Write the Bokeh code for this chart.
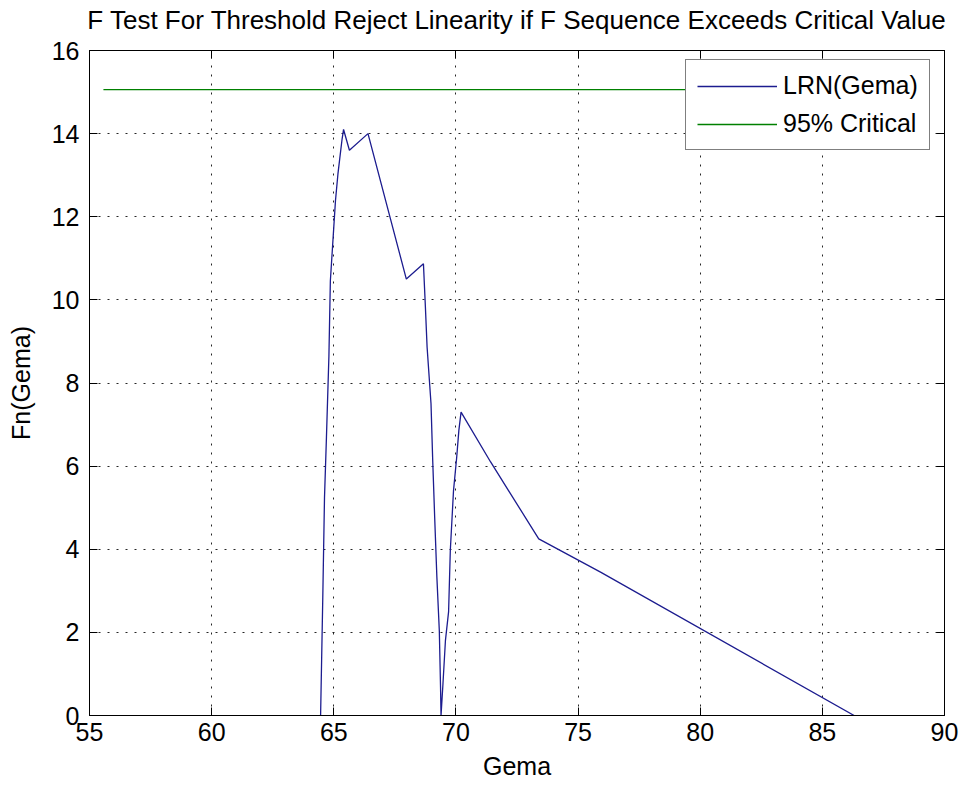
from bokeh.plotting import figure
from bokeh.models import (Range1d, LinearAxis, FixedTicker, Legend, LegendItem,
                          CustomJSTickFormatter)
from bokeh.embed import file_html
from bokeh.resources import INLINE

# ---- data ----
gema = [64.46, 64.55, 64.62, 64.70, 64.80, 64.86, 65.00, 65.07, 65.17, 65.25,
        65.34, 65.40, 65.64, 66.40, 67.97, 68.67, 68.75, 68.82, 68.98, 69.05,
        69.13, 69.22, 69.32, 69.37, 69.39, 69.47, 69.57, 69.70, 69.77, 69.90,
        70.03, 70.12, 70.21, 71.42, 73.39, 75.92, 86.30]
fn = [0.00, 2.85, 5.25, 6.70, 8.64, 10.46, 11.75, 12.39, 13.03, 13.43,
      13.87, 14.10, 13.60, 14.00, 10.50, 10.87, 9.83, 8.86, 7.50, 6.13,
      4.77, 3.33, 2.04, 0.68, 0.00, 0.77, 1.80, 2.50, 3.97, 5.40,
      6.20, 6.86, 7.30, 6.10, 4.25, 3.45, 0.00]
crit_gema = [55.57, 86.30]
crit_fn = [15.06, 15.06]

x_ticks = [55, 60, 65, 70, 75, 80, 85, 90]
y_ticks = [0, 2, 4, 6, 8, 10, 12, 14, 16]

title_text = "F Test For Threshold Reject Linearity if F Sequence Exceeds Critical Value"
x_label = "Gema"
y_label = "Fn(Gema)"
series_labels = ["LRN(Gema)", "95% Critical"]

FONT = "Liberation Sans"
FS = "25px"

p = figure(width=965, height=787, x_range=Range1d(55, 90), y_range=Range1d(0, 16),
           output_backend="svg", toolbar_location=None,
           min_border_left=89, min_border_right=21, min_border_top=50, min_border_bottom=72,
           background_fill_color="white", border_fill_color="white",
           outline_line_color="black", outline_line_width=1)

for ax, ticks in ((p.xaxis[0], x_ticks), (p.yaxis[0], y_ticks)):
    ax.ticker = FixedTicker(ticks=ticks)
    ax.major_tick_in = 8
    ax.major_tick_out = 0
    ax.minor_tick_in = 0
    ax.minor_tick_out = 0
    ax.axis_line_color = "black"
    ax.major_tick_line_color = "black"
    ax.major_label_text_font = FONT
    ax.major_label_text_font_size = FS
    ax.major_label_text_color = "black"
    ax.axis_label_text_font = FONT
    ax.axis_label_text_font_size = FS
    ax.axis_label_text_font_style = "normal"
    ax.axis_label_text_color = "black"

p.xaxis.axis_label = x_label
p.yaxis.axis_label = y_label
p.xaxis.major_label_standoff = 7
p.xaxis.axis_label_standoff = 8
p.yaxis.major_label_standoff = 10
p.yaxis.axis_label_standoff = 14

# top axis: inward ticks of the box, carrying the chart title as its label
top_axis = LinearAxis(ticker=FixedTicker(ticks=x_ticks),
                      formatter=CustomJSTickFormatter(code="return ''"),
                      major_label_text_font_size="0px", major_label_standoff=0,
                      major_tick_in=8, major_tick_out=0,
                      minor_tick_in=0, minor_tick_out=0,
                      axis_line_color="black", major_tick_line_color="black",
                      axis_label=title_text, axis_label_standoff=16,
                      axis_label_text_font=FONT, axis_label_text_font_size="26px",
                      axis_label_text_font_style="normal", axis_label_text_color="black")
p.add_layout(top_axis, "above")

right_axis = LinearAxis(ticker=FixedTicker(ticks=y_ticks),
                        formatter=CustomJSTickFormatter(code="return ''"),
                        major_label_text_font_size="0px", major_label_standoff=0,
                        major_tick_in=8, major_tick_out=0,
                        minor_tick_in=0, minor_tick_out=0,
                        axis_line_color="black", major_tick_line_color="black")
p.add_layout(right_axis, "right")

for g in (p.xgrid[0], p.ygrid[0]):
    g.grid_line_color = "black"
    g.grid_line_dash = "2 7"
    g.grid_line_width = 1
    g.grid_line_alpha = 0.85

r1 = p.line(gema, fn, line_color="#1c1c8f", line_width=1.3)
r2 = p.line(crit_gema, crit_fn, line_color="#008000", line_width=1.3)

legend = Legend(items=[LegendItem(label=series_labels[0], renderers=[r1]),
                       LegendItem(label=series_labels[1], renderers=[r2])],
                location=(596, 565), label_text_font=FONT, label_text_font_size=FS,
                label_text_color="black",
                glyph_width=80, glyph_height=26, label_height=26, label_standoff=6,
                padding=11, spacing=9, margin=0,
                border_line_color="black", border_line_width=1,
                background_fill_color="white", background_fill_alpha=1)
p.add_layout(legend)

open("out.html", "w").write(file_html(p, INLINE))
